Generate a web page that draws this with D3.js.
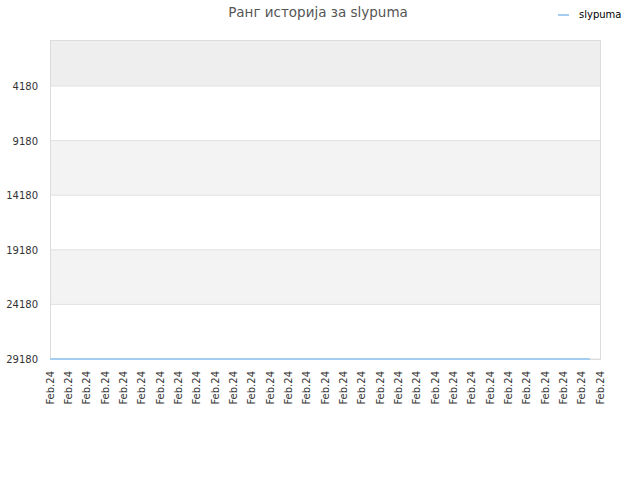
<!DOCTYPE html>
<html>
<head>
<meta charset="utf-8">
<script src="https://cdn.jsdelivr.net/npm/d3@7"></script>
<style>
  body { margin: 0; background: #fff; }
  text { font-family: "DejaVu Sans", sans-serif; }
</style>
</head>
<body>
<svg id="chart" width="640" height="480"></svg>
<script>
const title = "Ранг историја за slypuma";
const seriesName = "slypuma";
const xLabels = Array.from({ length: 31 }, () => "Feb.24");
const yTicks = [4180, 9180, 14180, 19180, 24180, 29180];
// day offset and rank
const seriesDays = [0, 1, 2, 3, 4, 5, 6, 7, 8, 9, 10, 11, 12, 13, 14, 15, 16, 17, 18, 19, 20, 21, 22, 23, 24, 25, 26, 27, 28, 29, 29.45];
const seriesRank = [29180, 29180, 29180, 29180, 29180, 29180, 29180, 29180, 29180, 29180, 29180, 29180, 29180, 29180, 29180, 29180, 29180, 29180, 29180, 29180, 29180, 29180, 29180, 29180, 29180, 29180, 29180, 29180, 29180, 29180, 29180];

const svg = d3.select("#chart");
const plotLeft = 50, plotRight = 600, plotTop = 40, plotBottom = 359;

const x = d3.scaleLinear().domain([0, xLabels.length - 1]).range([plotLeft, plotRight]);
const y = d3.scaleLinear().domain([29180, 4180]).range([plotBottom, 86]);
const yTop = y.invert(plotTop);

// bands
const bands = [[yTop, 4180, "#eeeeee"], [9180, 14180, "#f3f3f3"], [19180, 24180, "#f3f3f3"]];
bands.forEach(b => {
  svg.append("rect")
    .attr("x", plotLeft)
    .attr("y", y(b[0]))
    .attr("width", plotRight - plotLeft)
    .attr("height", y(b[1]) - y(b[0]))
    .attr("fill", b[2]);
});

// grid lines
yTicks.forEach(t => {
  svg.append("line")
    .attr("x1", plotLeft).attr("x2", plotRight)
    .attr("y1", y(t)).attr("y2", y(t))
    .attr("stroke", "#e0e0e0")
    .attr("stroke-width", 1);
});

// frame
svg.append("rect")
  .attr("x", plotLeft + 0.5).attr("y", plotTop + 0.5)
  .attr("width", plotRight - plotLeft).attr("height", plotBottom - plotTop)
  .attr("fill", "none")
  .attr("stroke", "#dcdcdc");

// y labels
svg.append("g").selectAll("text")
  .data(yTicks)
  .join("text")
  .attr("x", 38)
  .attr("y", d => y(d) + 4)
  .attr("text-anchor", "end")
  .attr("font-size", 10)
  .attr("fill", "#333")
  .text(d => d);

// x labels
svg.append("g").selectAll("text")
  .data(xLabels)
  .join("text")
  .attr("transform", (d, i) => `translate(${x(i) + 3.5},${plotBottom + 12}) rotate(-90)`)
  .attr("text-anchor", "end")
  .attr("font-size", 10)
  .attr("fill", "#333")
  .text(d => d);

// series line
const line = d3.line()
  .x((d, i) => x(seriesDays[i]))
  .y(d => y(d));
svg.append("path")
  .datum(seriesRank)
  .attr("d", line)
  .attr("fill", "none")
  .attr("stroke", "#a4cdf2")
  .attr("stroke-width", 2);

// title
svg.append("text")
  .attr("x", 318).attr("y", 17)
  .attr("text-anchor", "middle")
  .attr("font-size", 13.5)
  .attr("fill", "#555")
  .text(title);

// legend
svg.append("line")
  .attr("x1", 558).attr("x2", 569)
  .attr("y1", 15).attr("y2", 15)
  .attr("stroke", "#a4cdf2")
  .attr("stroke-width", 2);
svg.append("text")
  .attr("x", 579).attr("y", 18)
  .attr("font-size", 10)
  .attr("fill", "#000")
  .text(seriesName);
</script>
</body>
</html>
